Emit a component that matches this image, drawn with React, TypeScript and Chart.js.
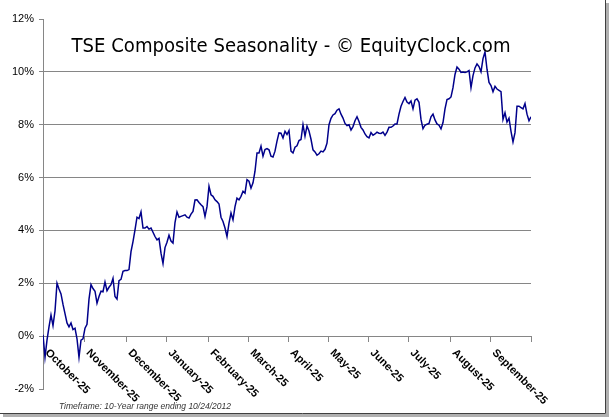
import React, { useEffect, useRef } from "react";
import { Chart, registerables } from "chart.js";

Chart.register(...registerables);

// ---- data ----
const monthLabels = [
  "October-25", "November-25", "December-25", "January-25", "February-25", "March-25",
  "April-25", "May-25", "June-25", "July-25", "August-25", "September-25",
];

const octValues = [0.05, -0.8, -0.15, 0.35, 0.8, 0.4, 0.95, 2.0, 1.78, 1.6, 1.2, 0.85, 0.5, 0.35, 0.5, 0.25, 0.3, -0.1, -0.8, -0.15, -0.1];
const novValues = [0.3, 0.45, 1.4, 1.95, 1.8, 1.7, 1.25, 1.5, 1.7, 1.68, 2.05, 1.72, 1.85, 1.95, 2.19, 1.5, 1.4, 2.1, 2.15, 2.45, 2.48];
const decValues = [2.48, 2.52, 3.2, 3.58, 4.02, 4.5, 4.45, 4.7, 4.09, 4.09, 4.15, 4.05, 4.09, 3.93, 3.77, 3.64, 3.7, 3.14, 2.75, 3.35];
const janValues = [3.55, 3.82, 3.6, 3.52, 4.3, 4.7, 4.5, 4.53, 4.56, 4.59, 4.5, 4.47, 4.62, 4.72, 5.15, 5.16, 5.06, 4.97, 4.9, 4.53, 4.9];
const febValues = [5.67, 5.35, 5.29, 5.16, 5.09, 5.0, 4.5, 4.34, 4.09, 3.77, 4.28, 4.66, 4.4, 4.9, 5.22, 5.16, 5.29, 5.48, 5.41, 5.92];
const marValues = [5.86, 5.6, 5.8, 6.24, 6.93, 6.93, 7.19, 6.81, 7.06, 7.1, 7.05, 6.81, 6.78, 7.0, 7.38, 7.69, 7.68, 7.5, 7.75, 7.63];
const aprValues = [7.78, 7.0, 6.93, 7.15, 7.2, 7.4, 7.44, 8.0, 7.57, 7.95, 7.76, 7.45, 7.05, 6.97, 6.85, 6.9, 7.0, 6.97, 7.07, 7.3];
const mayValues = [8.0, 8.24, 8.37, 8.42, 8.55, 8.6, 8.4, 8.25, 8.05, 7.97, 8.0, 7.8, 7.93, 8.15, 8.3, 8.12, 7.9, 7.8, 7.65, 7.55];
const junValues = [7.5, 7.7, 7.6, 7.65, 7.72, 7.68, 7.67, 7.72, 7.6, 7.72, 7.9, 7.9, 7.95, 8.03, 8.03, 8.4, 8.7, 8.88, 9.03, 8.86];
const julValues = [8.8, 8.9, 8.6, 8.93, 8.98, 8.85, 8.2, 7.85, 7.98, 8.02, 8.05, 8.3, 8.4, 8.18, 8.03, 7.98, 7.84, 8.08, 8.6, 8.95, 8.98];
const augValues = [9.05, 9.4, 9.9, 10.18, 10.1, 9.98, 9.99, 9.98, 10.0, 10.05, 9.4, 9.86, 10.15, 10.3, 10.2, 10.0, 10.5, 10.75, 10.1, 9.6];
const sepValues = [9.48, 9.25, 9.45, 9.35, 9.3, 9.25, 8.2, 8.45, 8.1, 8.25, 7.75, 7.35, 7.7, 8.7, 8.7, 8.65, 8.6, 8.8, 8.4, 8.15, 8.3];

const monthSeries = [octValues, novValues, decValues, janValues, febValues, marValues, aprValues, mayValues, junValues, julValues, augValues, sepValues];

const yMin = -2;
const yMax = 12;
const yStep = 2;
const gridFrom = 0;
const gridTo = 10;

const titleText = "TSE Composite Seasonality - \u00A9 EquityClock.com";
const footerText = "Timeframe: 10-Year range ending 10/24/2012";

// ---- derived ----
const seriesValues: number[] = monthSeries.flat();
const monthStarts: number[] = [];
{
  let acc = 0;
  monthSeries.forEach((m, i) => {
    monthStarts.push(i === 0 ? 0 : acc - 0.5);
    acc += m.length;
  });
}
const lastIndex = seriesValues.length - 1;
const boundaryTicks = [...monthStarts, lastIndex];
const points = seriesValues.map((v, i) => ({ x: i, y: v }));

const GRID = "#868686";

const overlayPlugin = {
  id: "overlay",
  afterDraw(chart: any) {
    const { ctx, scales, chartArea } = chart;
    const xs = scales.x;
    const ys = scales.y;
    const zeroY = ys.getPixelForValue(0);
    ctx.save();

    // month labels (rotated down-right)
    ctx.font = 'bold 11px "Liberation Sans", Arial, sans-serif';
    ctx.fillStyle = "#000";
    ctx.textAlign = "left";
    ctx.textBaseline = "middle";
    monthLabels.forEach((label, i) => {
      const px = xs.getPixelForValue(monthStarts[i]);
      ctx.save();
      ctx.translate(px + 4, zeroY + 15);
      ctx.rotate(Math.PI / 4);
      ctx.fillText(label, 0, 0);
      ctx.restore();
    });

    // title
    ctx.font = '20px "DejaVu Sans", Verdana, sans-serif';
    ctx.fillStyle = "#000";
    ctx.textAlign = "center";
    ctx.textBaseline = "alphabetic";
    const target = 439;
    const w = ctx.measureText(titleText).width;
    const cx = (chartArea.left + chartArea.right) / 2 + 4;
    ctx.save();
    ctx.translate(cx, chartArea.top + 33);
    if (w > target) ctx.scale(target / w, 1);
    ctx.fillText(titleText, 0, 0);
    ctx.restore();

    // footer
    ctx.font = 'italic 8.5px "Liberation Sans", Arial, sans-serif';
    ctx.fillStyle = "#333";
    ctx.textAlign = "left";
    ctx.textBaseline = "middle";
    ctx.fillText(footerText, chartArea.left + 16, chartArea.bottom + 18);

    // frame with shadow
    const W = chart.width;
    const H = chart.height;
    ctx.fillStyle = "#b0b0b0";
    ctx.fillRect(3, H - 4, W - 3, 3);
    ctx.fillRect(W - 3, 3, 3, H - 4);
    ctx.strokeStyle = "#404040";
    ctx.lineWidth = 1;
    ctx.beginPath();
    ctx.moveTo(W - 3.5, 0);
    ctx.lineTo(W - 3.5, H - 4.5);
    ctx.lineTo(0, H - 4.5);
    ctx.stroke();

    ctx.restore();
  },
};

export default function App() {
  const canvasRef = useRef<HTMLCanvasElement | null>(null);

  useEffect(() => {
    const canvas = canvasRef.current;
    if (!canvas) return;
    const chart = new Chart(canvas, {
      type: "line",
      data: {
        datasets: [
          {
            data: points,
            borderColor: "#00008b",
            borderWidth: 1.5,
            pointRadius: 0,
            tension: 0,
            fill: false,
          },
        ],
      },
      options: {
        animation: false,
        responsive: false,
        devicePixelRatio: 1,
        parsing: false,
        layout: { padding: { left: 8, top: 19, right: 78, bottom: 29 } },
        plugins: {
          legend: { display: false },
          tooltip: { enabled: false },
          title: { display: false },
        },
        scales: {
          x: {
            type: "linear",
            position: { y: 0 } as any,
            min: 0,
            max: lastIndex,
            afterBuildTicks: (scale: any) => {
              scale.ticks = boundaryTicks.map((v) => ({ value: v }));
            },
            ticks: { display: false },
            grid: {
              drawOnChartArea: false,
              drawTicks: true,
              tickLength: 5,
              tickColor: GRID,
            },
            border: { display: true, color: GRID, width: 1 },
          },
          y: {
            type: "linear",
            min: yMin,
            max: yMax,
            afterFit: (scale: any) => {
              scale.width = 35;
            },
            ticks: {
              stepSize: yStep,
              padding: 5,
              color: "#000",
              font: { family: '"Liberation Sans", Arial, sans-serif', size: 11 },
              callback: (v: any) => `${v}%`,
            },
            grid: {
              color: (c: any) =>
                c.tick && c.tick.value >= gridFrom && c.tick.value <= gridTo ? GRID : "rgba(0,0,0,0)",
              tickColor: GRID,
              tickLength: 4,
              drawTicks: true,
            },
            border: { display: true, color: GRID, width: 1 },
          },
        },
      },
      plugins: [overlayPlugin],
    });
    return () => chart.destroy();
  }, []);

  return (
    <div style={{ position: "fixed", left: 0, top: 0, width: 609, height: 418, background: "#fff" }}>
      <canvas ref={canvasRef} width={609} height={418} style={{ display: "block" }} />
    </div>
  );
}
